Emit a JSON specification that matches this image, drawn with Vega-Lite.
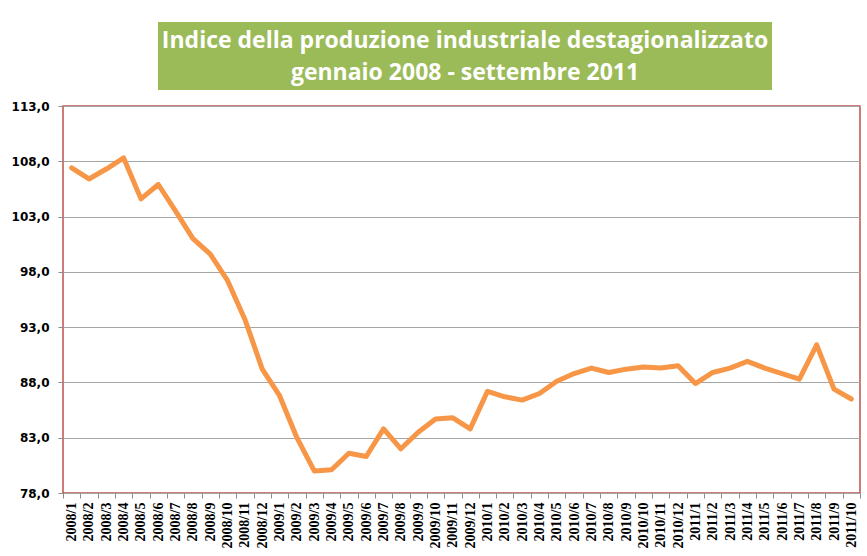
{
  "$schema": "https://vega.github.io/schema/vega-lite/v6.json",
  "background": "white",
  "padding": {"left": 10, "top": 22, "right": 0, "bottom": 0},
  "config": {"concat": {"spacing": 0}},
  "vconcat": [
    {
      "hconcat": [
        {
          "width": 95,
          "height": 68,
          "view": {"stroke": null, "fill": null},
          "data": {"values": [{"t": ""}]},
          "mark": {"type": "text"},
          "encoding": {"text": {"field": "t"}}
        },
        {
          "width": 614,
          "height": 68,
          "view": {"stroke": null, "fill": "#9BBB59"},
          "data": {"values": [{"t": ["Indice della produzione industriale destagionalizzato", "gennaio 2008 - settembre 2011"]}]},
          "mark": {"type": "text", "font": "Open Sans", "fontWeight": "bold", "fontSize": 23, "lineHeight": 32, "dy": -15, "color": "white", "align": "center", "baseline": "middle"},
          "encoding": {"text": {"field": "t"}}
        }
      ],
      "spacing": 0
    },
    {
      "width": 797,
      "height": 387,
      "view": {"stroke": "#C0504D", "strokeWidth": 1.5, "fill": "white"},
      "data": {"values": [
        {"m": "2008/1", "v": 107.4},
        {"m": "2008/2", "v": 106.4},
        {"m": "2008/3", "v": 107.3},
        {"m": "2008/4", "v": 108.3},
        {"m": "2008/5", "v": 104.6},
        {"m": "2008/6", "v": 105.9},
        {"m": "2008/7", "v": 103.5},
        {"m": "2008/8", "v": 101.0},
        {"m": "2008/9", "v": 99.6},
        {"m": "2008/10", "v": 97.2},
        {"m": "2008/11", "v": 93.7},
        {"m": "2008/12", "v": 89.2},
        {"m": "2009/1", "v": 86.8},
        {"m": "2009/2", "v": 83.0},
        {"m": "2009/3", "v": 80.0},
        {"m": "2009/4", "v": 80.1},
        {"m": "2009/5", "v": 81.6},
        {"m": "2009/6", "v": 81.3},
        {"m": "2009/7", "v": 83.8},
        {"m": "2009/8", "v": 82.0},
        {"m": "2009/9", "v": 83.5},
        {"m": "2009/10", "v": 84.7},
        {"m": "2009/11", "v": 84.8},
        {"m": "2009/12", "v": 83.8},
        {"m": "2010/1", "v": 87.2},
        {"m": "2010/2", "v": 86.7},
        {"m": "2010/3", "v": 86.4},
        {"m": "2010/4", "v": 87.0},
        {"m": "2010/5", "v": 88.1},
        {"m": "2010/6", "v": 88.8},
        {"m": "2010/7", "v": 89.3},
        {"m": "2010/8", "v": 88.9},
        {"m": "2010/9", "v": 89.2},
        {"m": "2010/10", "v": 89.4},
        {"m": "2010/11", "v": 89.3},
        {"m": "2010/12", "v": 89.5},
        {"m": "2011/1", "v": 87.9},
        {"m": "2011/2", "v": 88.9},
        {"m": "2011/3", "v": 89.3},
        {"m": "2011/4", "v": 89.9},
        {"m": "2011/5", "v": 89.3},
        {"m": "2011/6", "v": 88.8},
        {"m": "2011/7", "v": 88.3},
        {"m": "2011/8", "v": 91.4},
        {"m": "2011/9", "v": 87.4},
        {"m": "2011/10", "v": 86.5}
      ]},
      "mark": {"type": "line", "color": "#F79646", "strokeWidth": 5, "strokeJoin": "round", "strokeCap": "round"},
      "encoding": {
        "x": {
          "field": "m", "type": "nominal", "sort": null,
          "scale": {"paddingInner": 0, "paddingOuter": 0},
          "axis": {
            "title": null, "labelAngle": -90, "labelFont": "Liberation Sans Narrow", "labelFontWeight": "bold",
            "labelFontSize": 14, "labelColor": "black", "labelPadding": 4, "tickBand": "extent",
            "tickColor": "#8c8c8c", "tickSize": 5, "domain": false, "grid": false
          }
        },
        "y": {
          "field": "v", "type": "quantitative",
          "scale": {"domain": [78, 113], "nice": false, "zero": false},
          "axis": {
            "title": null, "values": [78, 83, 88, 93, 98, 103, 108, 113],
            "labelExpr": "replace(format(datum.value, '.1f'), '.', ',')",
            "labelFont": "DejaVu Sans", "labelFontWeight": "bold", "labelFontSize": 12, "labelColor": "black",
            "labelPadding": 9, "tickSize": 5, "tickColor": "#8c8c8c", "domain": false,
            "grid": true, "gridColor": "#a6a6a6", "gridWidth": 1
          }
        }
      }
    }
  ],
  "spacing": 9
}
